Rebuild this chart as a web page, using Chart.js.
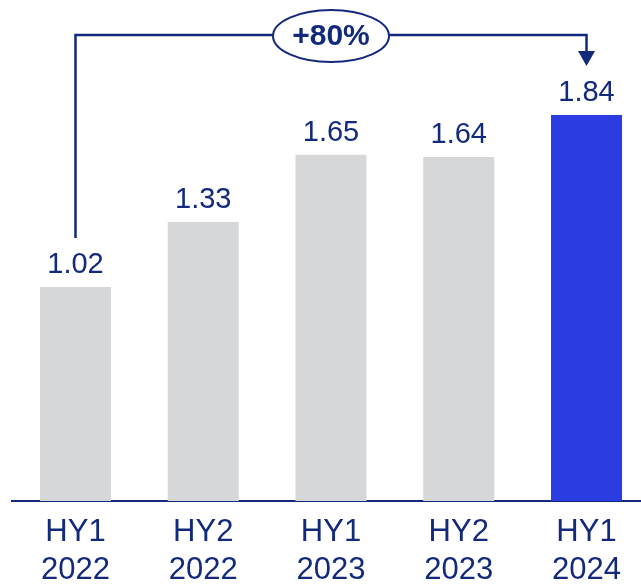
<!DOCTYPE html>
<html>
<head>
<meta charset="utf-8">
<script src="https://cdn.jsdelivr.net/npm/chart.js@4.4.1/dist/chart.umd.min.js"></script>
<style>
  html, body { margin: 0; padding: 0; background: #ffffff; overflow: hidden; }
  #wrap { width: 641px; height: 585px; overflow: hidden; }
</style>
</head>
<body>
<div id="wrap">
  <canvas id="barChart" width="652" height="585"></canvas>
</div>
<script>
/*==========================================================

DATOS

==========================================================*/

const periods = ["HY1", "HY2", "HY1", "HY2", "HY1"];
const years = ["2022", "2022", "2023", "2023", "2024"];
const values = [1.02, 1.33, 1.65, 1.64, 1.84];
const growthLabel = "+80%";

const navy = "#132a7c";
const gray = "#d6d7d9";
const blue = "#2b3ce0";

/*==========================================================

ETIQUETAS DE VALOR SOBRE LAS BARRAS

==========================================================*/

const valueLabels = {
  id: "valueLabels",
  afterDatasetsDraw(chart) {
    const ctx = chart.ctx;
    const meta = chart.getDatasetMeta(0);
    ctx.save();
    ctx.fillStyle = navy;
    ctx.font = "29px 'Liberation Sans', Arial, sans-serif";
    ctx.textAlign = "center";
    ctx.textBaseline = "alphabetic";
    meta.data.forEach((bar, i) => {
      ctx.fillText(values[i].toFixed(2), bar.x, bar.y - 14);
    });
    ctx.restore();
  },
};

/*==========================================================

FLECHA DE CRECIMIENTO (+80%)

==========================================================*/

const growthArrow = {
  id: "growthArrow",
  afterDatasetsDraw(chart) {
    const ctx = chart.ctx;
    const meta = chart.getDatasetMeta(0);
    const first = meta.data[0];
    const last = meta.data[meta.data.length - 1];
    const topY = 35;
    const startY = first.y - 49;
    const tipY = last.y - 49;
    const midX = (first.x + last.x) / 2;

    ctx.save();
    ctx.strokeStyle = navy;
    ctx.fillStyle = navy;
    ctx.lineWidth = 2.5;

    ctx.beginPath();
    ctx.moveTo(first.x, startY);
    ctx.lineTo(first.x, topY);
    ctx.lineTo(last.x, topY);
    ctx.lineTo(last.x, tipY - 15);
    ctx.stroke();

    // punta de flecha
    ctx.beginPath();
    ctx.moveTo(last.x - 8.5, tipY - 15);
    ctx.lineTo(last.x + 8.5, tipY - 15);
    ctx.lineTo(last.x, tipY);
    ctx.closePath();
    ctx.fill();

    // ovalo con el porcentaje
    ctx.beginPath();
    ctx.ellipse(midX, topY + 1, 58, 26, 0, 0, Math.PI * 2);
    ctx.fillStyle = "#ffffff";
    ctx.fill();
    ctx.lineWidth = 2;
    ctx.stroke();

    ctx.fillStyle = navy;
    ctx.font = "bold 30px 'Liberation Sans', Arial, sans-serif";
    ctx.textAlign = "center";
    ctx.textBaseline = "middle";
    ctx.fillText(growthLabel, midX, topY + 2);
    ctx.restore();
  },
};

/*==========================================================

GRAFICO

==========================================================*/

function mostrarGrafico() {
  const ctx = document.getElementById("barChart").getContext("2d");
  const labels = periods.map((p, i) => [p, years[i]]);
  const colors = values.map((v, i) => (i === values.length - 1 ? blue : gray));

  new Chart(ctx, {
    type: "bar",
    data: {
      labels: labels,
      datasets: [
        {
          data: values,
          backgroundColor: colors,
          borderWidth: 0,
          barPercentage: 0.556,
          categoryPercentage: 1,
        },
      ],
    },
    options: {
      responsive: false,
      animation: false,
      devicePixelRatio: 1,
      layout: {
        padding: { left: 11.6, right: 1.6, top: 39.4, bottom: 0 },
      },
      plugins: {
        legend: { display: false },
        tooltip: { enabled: false },
      },
      scales: {
        x: {
          grid: { display: false, drawTicks: false },
          border: { display: true, color: navy, width: 2 },
          ticks: {
            color: navy,
            padding: 12.75,
            font: { family: "'Liberation Sans', Arial, sans-serif", size: 31, lineHeight: 1.21 },
          },
          afterFit: function (scale) {
            scale.height = 84;
          },
        },
        y: {
          display: false,
          min: 0,
          max: 2.2,
        },
      },
    },
    plugins: [valueLabels, growthArrow],
  });
}

mostrarGrafico();
</script>
</body>
</html>
